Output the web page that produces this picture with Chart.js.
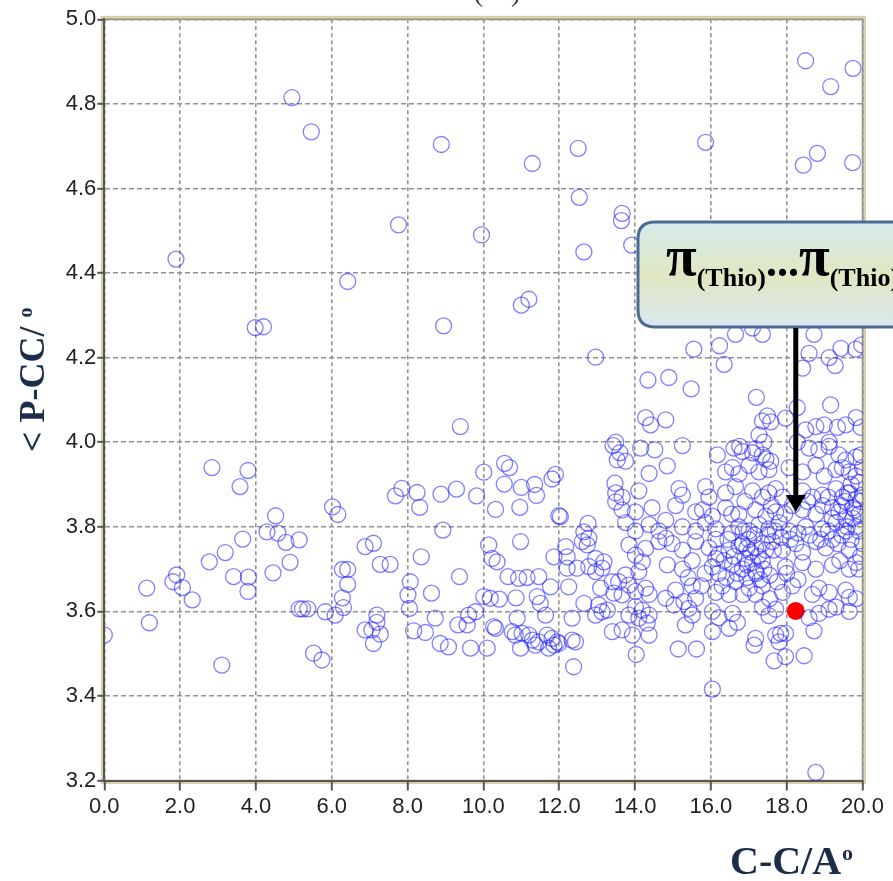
<!DOCTYPE html>
<html>
<head>
<meta charset="utf-8">
<script src="https://cdn.jsdelivr.net/npm/chart.js@4.4.1/dist/chart.umd.min.js"></script>
<style>
html,body{margin:0;padding:0;background:#fff;overflow:hidden}
canvas{display:block}
</style>
</head>
<body>
<canvas id="c" width="893" height="881"></canvas>
<script>
// ---- data (C-C distance / Å, <P-CC angle) ----
const xTicks = [0, 2, 4, 6, 8, 10, 12, 14, 16, 18, 20];
const yTicks = [3.2, 3.4, 3.6, 3.8, 4.0, 4.2, 4.4, 4.6, 4.8, 5.0];
const xTitle = 'C-C/A';
const yTitle = '< P-CC/ ';
const calloutLabel = ['\u03c0', '(Thio)', '...', '\u03c0', '(Thio)'];

const upperPoints = [
[4.95,4.815],[5.46,4.734],[1.89,4.433],[8.89,4.704],[11.29,4.659],[12.50,4.695],[12.53,4.579],
[7.76,4.514],[9.95,4.490],[12.65,4.450],[13.66,4.541],[13.64,4.524],[13.91,4.466],[18.50,4.902],
[19.75,4.884],[19.16,4.841],[15.86,4.709],[18.81,4.683],[18.44,4.655],[19.74,4.661],[3.98,4.271],
[4.20,4.273],[6.42,4.380],[8.95,4.275],[11.00,4.324],[11.20,4.338],[12.96,4.201],[15.55,4.220],
[16.23,4.228],[16.35,4.184],[16.65,4.255],[17.36,4.255],[17.10,4.270],[18.72,4.255],[18.59,4.210],
[18.42,4.175],[19.12,4.200],[19.28,4.181],[19.43,4.222],[19.82,4.220],[19.98,4.230],[14.34,4.147],
[14.89,4.153],[15.48,4.126],[17.20,4.106],[19.16,4.088],[18.28,4.082]
];

const leftPoints = [
[0.00,3.544],[1.12,3.655],[1.19,3.573],[1.81,3.670],[1.91,3.686],[2.06,3.656],[2.32,3.627],
[2.77,3.717],[3.19,3.739],[3.65,3.771],[3.41,3.682],[3.80,3.681],[3.79,3.647],[3.10,3.473],
[4.45,3.691],[4.90,3.716],[4.29,3.788],[4.58,3.785],[4.79,3.763],[5.14,3.769],[5.14,3.606],
[5.23,3.606],[5.37,3.606],[5.83,3.599],[6.09,3.591],[6.31,3.609],[6.28,3.632],[6.42,3.664],
[6.28,3.699],[6.42,3.699],[5.52,3.501],[5.74,3.485],[2.84,3.940],[3.79,3.933],[3.58,3.895],
[6.02,3.847],[6.16,3.829],[4.52,3.826],[6.88,3.753],[7.10,3.761],[7.28,3.711],[7.54,3.711],
[6.88,3.556],[7.06,3.556],[7.19,3.574],[7.28,3.546],[7.10,3.524],[7.19,3.591],[7.85,3.891],[7.68,3.873]
];

const midPoints = [
[9.39,4.037],[13.42,3.992],[13.53,3.958],[13.47,3.903],[13.49,3.859],[10.56,3.950],[10.69,3.940],
[10.01,3.929],[11.90,3.924],[11.81,3.913],[8.25,3.881],[8.32,3.846],[8.88,3.877],[9.29,3.889],
[9.82,3.873],[10.55,3.901],[11.00,3.893],[11.35,3.900],[11.40,3.874],[10.32,3.841],[10.96,3.846],
[11.99,3.826],[12.03,3.824],[12.76,3.808],[12.65,3.788],[8.93,3.792],
[8.07,3.670],[8.01,3.639],[8.05,3.607],[8.36,3.729],[8.63,3.643],[8.16,3.554],[8.47,3.550],
[8.73,3.584],[8.86,3.524],[9.08,3.516],[9.37,3.682],[9.33,3.568],[9.57,3.568],[9.61,3.591],
[9.79,3.599],[9.66,3.513],[10.10,3.513],[10.14,3.757],[10.23,3.725],[10.36,3.717],[10.01,3.635],
[10.18,3.631],[10.42,3.629],[10.27,3.564],[10.32,3.560],[10.65,3.682],[10.93,3.678],[11.15,3.680],
[11.46,3.682],[10.98,3.765],[10.86,3.632],[11.42,3.635],[11.50,3.619],[11.64,3.591],[11.77,3.658],
[10.89,3.584],[10.76,3.552],[10.84,3.544],[11.02,3.548],[11.20,3.544],[11.29,3.532],[11.46,3.528],
[11.37,3.520],[11.68,3.544],[11.81,3.536],[11.95,3.528],[11.86,3.520],[11.72,3.513],[11.99,3.524],
[10.98,3.513],[12.38,3.469],[12.34,3.584],[12.34,3.532],[12.43,3.528],[11.86,3.729],[12.21,3.729],
[12.17,3.753],[12.25,3.658],[12.65,3.619],[13.04,3.615],[13.13,3.599],[12.96,3.591],[13.27,3.603],
[13.40,3.552],[12.21,3.702],[12.47,3.702],[12.78,3.706],[12.96,3.694],[13.13,3.702],[13.09,3.655],
[12.61,3.765],[12.78,3.773],[12.74,3.757],[12.96,3.725],[13.18,3.717],[13.40,3.670],[13.44,3.643]
];

const rightPoints = [
[17.36,4.050],[17.49,4.062],[17.58,4.048],[17.97,4.057],[18.50,4.029],[18.77,4.037],[18.99,4.041],
[19.34,4.035],[19.56,4.041],[19.83,4.058],[19.96,4.035],[14.28,4.058],[14.41,4.041],[14.81,4.053],
[17.27,4.017],[17.40,4.000],[13.49,4.000],[15.25,3.992],[19.12,4.000],
[13.60,3.975],[13.75,3.955],[14.15,3.986],[14.52,3.982],[16.17,3.970],[16.61,3.986],[16.76,3.990],
[16.83,3.978],[17.10,3.975],[17.18,3.985],[17.36,3.970],[17.45,3.960],[17.58,3.955],[18.28,4.000],
[18.59,3.986],[18.85,3.982],[19.12,3.990],[19.38,3.970],[19.56,3.958],[19.83,3.965],[19.96,3.970],
[14.37,3.926],[14.85,3.944],[16.39,3.930],[16.57,3.940],[16.74,3.925],[17.01,3.945],[17.27,3.930],
[17.53,3.935],[18.06,3.940],[18.42,3.930],[18.77,3.945],[18.99,3.920],[19.30,3.935],[19.47,3.940],
[19.65,3.930],[19.83,3.920],[20.00,3.940],
[13.49,3.880],[13.66,3.870],[14.10,3.885],[15.16,3.890],[15.25,3.875],[15.86,3.895],[15.95,3.870],
[16.39,3.880],[16.65,3.895],[17.10,3.885],[17.36,3.870],[17.53,3.880],[17.71,3.890],[17.89,3.870],
[18.42,3.885],[18.68,3.870],[18.94,3.875],[19.30,3.890],[19.47,3.870],[19.65,3.880],[19.83,3.865],[20.00,3.875],
[13.66,3.840],[14.01,3.835],[14.45,3.845],[15.07,3.850],[15.60,3.835],[15.78,3.840],[16.04,3.825],
[16.39,3.845],[16.74,3.830],[17.18,3.840],[17.45,3.825],[17.71,3.835],[18.42,3.840],[18.77,3.830],
[19.21,3.845],[19.38,3.835],[19.56,3.820],[19.74,3.845],[19.91,3.830],
[13.75,3.810],[14.01,3.790],[14.37,3.805],[14.63,3.790],[14.81,3.815],[15.25,3.800],[15.60,3.790],
[15.86,3.810],[16.13,3.795],[16.74,3.800],[17.01,3.790],[17.27,3.805],[17.53,3.795],[17.80,3.810],
[18.06,3.790],[18.50,3.800],[18.94,3.795],[19.30,3.810],[19.56,3.790],[19.83,3.800],
[14.98,3.760],[15.25,3.745],[15.60,3.765],[15.95,3.750],[16.13,3.770],[16.48,3.745],[16.83,3.760],
[17.18,3.750],[17.62,3.765],[17.89,3.745],[18.24,3.760],[18.42,3.740],[18.77,3.765],[19.03,3.750],
[19.21,3.770],[19.65,3.745],[20.00,3.760],[14.63,3.765],[14.81,3.773],[13.84,3.757],[14.28,3.749],[14.01,3.733],
[14.85,3.710],[15.25,3.700],[15.51,3.720],[16.04,3.705],[16.13,3.725],[16.57,3.710],[16.83,3.700],
[17.10,3.715],[17.18,3.695],[17.36,3.720],[17.97,3.705],[18.42,3.715],[18.77,3.700],[19.21,3.710],
[19.65,3.700],[19.83,3.715],[14.19,3.717],[14.10,3.694],[13.75,3.686],
[16.21,3.735],[16.35,3.720],[16.61,3.730],[16.70,3.690],[16.90,3.725],[17.05,3.740],[17.25,3.730],
[17.45,3.745],[17.40,3.700],[16.95,3.680],[16.40,3.680],[17.30,3.675],[17.55,3.685],[16.75,3.755],
[17.00,3.770],[17.50,3.780],
[19.45,3.780],[19.70,3.770],[19.90,3.790],[19.55,3.860],[19.80,3.840],[19.95,3.860],[19.40,3.720],
[19.90,3.700],[19.95,3.730],
[16.55,3.785],[16.85,3.790],[17.15,3.780],[17.35,3.760],[17.65,3.745],[16.95,3.750],[16.45,3.770],
[17.70,3.790],[17.85,3.775],[18.10,3.770],[18.30,3.785],[18.60,3.780],[18.90,3.770],[19.10,3.790],
[19.35,3.760],[19.60,3.800],[19.75,3.820],[19.20,3.820],[18.95,3.850],[19.10,3.870],[19.45,3.850],
[19.70,3.900],[19.90,3.905],[19.60,3.880],[18.55,3.860],[18.15,3.850],[17.95,3.830],[17.60,3.850],
[16.90,3.860],[16.55,3.830],[16.95,3.710],[17.20,3.690],[16.65,3.670],[17.75,3.670],[18.00,3.690],
[18.30,3.675],[16.20,3.690],[15.85,3.690],[15.75,3.660],[15.40,3.680],[16.85,3.640],[17.55,3.630],
[13.57,3.670],[13.84,3.662],[14.28,3.655],[14.01,3.647],[13.66,3.639],[14.81,3.631],[15.60,3.631],
[15.29,3.623],[15.07,3.650],[15.51,3.660],[16.13,3.645],[16.30,3.660],[16.48,3.640],[17.01,3.655],
[17.18,3.640],[17.36,3.660],[17.89,3.645],[18.15,3.660],[18.68,3.640],[18.85,3.655],[19.12,3.645],
[19.56,3.650],[19.65,3.633],[19.83,3.630],[14.37,3.640],
[14.01,3.611],[14.19,3.603],[14.37,3.591],[14.10,3.584],[13.84,3.591],[15.03,3.615],[15.42,3.607],
[15.51,3.591],[16.04,3.600],[16.21,3.585],[16.57,3.595],[17.36,3.610],[17.53,3.590],[17.71,3.605],
[18.59,3.585],[18.85,3.595],[19.12,3.605],[19.30,3.610],[19.65,3.600],
[14.32,3.572],[13.66,3.556],[13.93,3.544],[14.37,3.544],[15.33,3.568],[16.04,3.552],[16.48,3.560],
[16.70,3.574],[18.72,3.554],[17.71,3.544],[17.84,3.548],[17.97,3.548],[17.18,3.536],
[17.14,3.520],[17.80,3.528],[14.03,3.498],[15.14,3.511],[15.62,3.511],[17.67,3.483],[17.97,3.493],
[18.46,3.495],[16.04,3.416],[18.77,3.219]
];

const highlightPoints = [[18.24, 3.601]];
const arrowTipY = 3.835;

// ---- helpers ----
const toXY = arr => arr.map(p => ({x: p[0], y: p[1]}));
const circleStyle = {
  pointStyle: 'circle', pointRadius: 8, pointHoverRadius: 8,
  pointBorderWidth: 1.3, pointBorderColor: 'rgba(25,25,255,0.55)',
  pointBackgroundColor: 'rgba(0,0,0,0)', showLine: false
};
const TICK_FONT = {family: '"Liberation Sans", Arial, sans-serif', size: 22};

function roundRectPath(ctx, x, y, w, h, r) {
  ctx.beginPath();
  ctx.moveTo(x + r, y);
  ctx.lineTo(x + w - r, y); ctx.quadraticCurveTo(x + w, y, x + w, y + r);
  ctx.lineTo(x + w, y + h - r); ctx.quadraticCurveTo(x + w, y + h, x + w - r, y + h);
  ctx.lineTo(x + r, y + h); ctx.quadraticCurveTo(x, y + h, x, y + h - r);
  ctx.lineTo(x, y + r); ctx.quadraticCurveTo(x, y, x + r, y);
  ctx.closePath();
}

const decor = {
  id: 'decor',
  beforeDraw(chart) {
    const {ctx, chartArea: a} = chart;
    ctx.save();
    ctx.strokeStyle = '#dccfa8';
    ctx.lineWidth = 3;
    ctx.strokeRect(a.left - 2, a.top - 2, a.right - a.left + 4, a.bottom - a.top + 4);
    ctx.strokeStyle = '#8c8c8c';
    ctx.lineWidth = 1.5;
    ctx.strokeRect(a.left, a.top, a.right - a.left, a.bottom - a.top);
    ctx.restore();
  },
  afterDraw(chart) {
    const {ctx} = chart;
    const xs = chart.scales.x, ys = chart.scales.y;
    const serif = '"Liberation Serif", "Times New Roman", serif';
    ctx.save();
    // axis titles
    ctx.fillStyle = '#1c2d4a';
    ctx.textBaseline = 'alphabetic';
    ctx.textAlign = 'left';
    ctx.font = 'bold 40px ' + serif;
    const xw = ctx.measureText(xTitle).width;
    ctx.fillText(xTitle, 730, 874);
    ctx.font = 'bold 22px ' + serif;
    ctx.fillText('o', 730 + xw + 1, 860);

    ctx.save();
    ctx.translate(44, 452);
    ctx.rotate(-Math.PI / 2);
    ctx.font = 'bold 36px ' + serif;
    const yw = ctx.measureText(yTitle).width;
    ctx.fillText(yTitle, 0, 0);
    ctx.font = 'bold 20px ' + serif;
    ctx.fillText('o', yw, -12);
    ctx.restore();

    // partial glyph at top
    ctx.fillStyle = '#333';
    ctx.font = '28px ' + serif;
    ctx.textAlign = 'center';
    ctx.fillText('(    )', 497, 1);

    // callout box
    const bx = 638, by = 222, bw = 320, bh = 105;
    const g = ctx.createLinearGradient(0, by, 0, by + bh);
    g.addColorStop(0, '#d6ebee');
    g.addColorStop(0.5, '#e0e7c1');
    g.addColorStop(1, '#dbe7f0');
    roundRectPath(ctx, bx, by, bw, bh, 17);
    ctx.fillStyle = g;
    ctx.fill();
    ctx.lineWidth = 3;
    ctx.strokeStyle = '#4b6b95';
    ctx.stroke();

    // callout text
    ctx.fillStyle = '#000';
    ctx.textAlign = 'left';
    let tx = 666;
    const parts = [
      {t: calloutLabel[0], f: 'bold 56px ' + serif, b: 275},
      {t: calloutLabel[1], f: 'bold 26px ' + serif, b: 286},
      {t: calloutLabel[2], f: 'bold 44px ' + serif, b: 276},
      {t: calloutLabel[3], f: 'bold 56px ' + serif, b: 275},
      {t: calloutLabel[4], f: 'bold 26px ' + serif, b: 286}
    ];
    parts.forEach(p => {
      ctx.font = p.f;
      ctx.fillText(p.t, tx, p.b);
      tx += ctx.measureText(p.t).width;
    });

    // arrow
    const ax = xs.getPixelForValue(highlightPoints[0][0]);
    const tipY = ys.getPixelForValue(arrowTipY);
    ctx.strokeStyle = '#000';
    ctx.lineWidth = 5;
    ctx.beginPath();
    ctx.moveTo(ax, by + bh + 1);
    ctx.lineTo(ax, tipY - 14);
    ctx.stroke();
    ctx.beginPath();
    ctx.moveTo(ax - 10, tipY - 17);
    ctx.lineTo(ax + 10, tipY - 17);
    ctx.lineTo(ax, tipY);
    ctx.closePath();
    ctx.fillStyle = '#000';
    ctx.fill();
    ctx.restore();
  }
};

new Chart(document.getElementById('c'), {
  type: 'scatter',
  data: {
    datasets: [
      Object.assign({label: 'upper', data: toXY(upperPoints)}, circleStyle),
      Object.assign({label: 'left', data: toXY(leftPoints)}, circleStyle),
      Object.assign({label: 'mid', data: toXY(midPoints)}, circleStyle),
      Object.assign({label: 'right', data: toXY(rightPoints)}, circleStyle),
      {label: 'highlight', data: toXY(highlightPoints), pointStyle: 'circle', pointRadius: 9,
       pointBorderWidth: 0, pointBackgroundColor: '#ff0000', pointBorderColor: '#ff0000'}
    ]
  },
  options: {
    responsive: false,
    animation: false,
    devicePixelRatio: 1,
    events: [],
    layout: {padding: {left: 0, top: 19.3, right: 30.5, bottom: 0}},
    plugins: {legend: {display: false}, tooltip: {enabled: false}, title: {display: false}},
    scales: {
      x: {
        type: 'linear', min: 0, max: 20,
        afterFit: s => { s.height = 100.5; },
        afterBuildTicks: s => { s.ticks = xTicks.map(v => ({value: v})); },
        ticks: {callback: v => Number(v).toFixed(1), font: TICK_FONT, color: '#222', padding: 3, maxRotation: 0, autoSkip: false},
        grid: {color: '#939393', lineWidth: 1.6, borderDash: [4, 3], tickLength: 10, tickColor: '#555', tickWidth: 2, tickBorderDash: [0, 0]},
        border: {display: true, color: '#555', width: 2, dash: [4, 3]}
      },
      y: {
        type: 'linear', min: 3.2, max: 5.0,
        afterFit: s => { s.width = 104.3; },
        afterBuildTicks: s => { s.ticks = yTicks.map(v => ({value: v})); },
        ticks: {callback: v => Number(v).toFixed(1), font: TICK_FONT, color: '#222', padding: 1, autoSkip: false},
        grid: {color: '#939393', lineWidth: 1.6, borderDash: [5, 3], tickLength: 7, tickColor: '#555', tickWidth: 2, tickBorderDash: [0, 0]},
        border: {display: true, color: '#555', width: 2, dash: [5, 3]}
      }
    }
  },
  plugins: [decor]
});
</script>
</body>
</html>
